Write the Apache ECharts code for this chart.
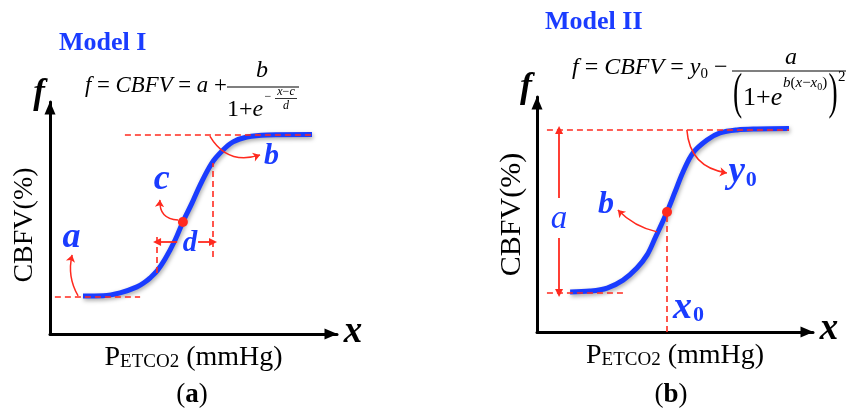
<!DOCTYPE html>
<html>
<head>
<meta charset="utf-8">
<title>CBFV sigmoid models</title>
<script src="https://cdn.jsdelivr.net/npm/echarts@6/dist/echarts.min.js"></script>
<style>
html,body{margin:0;padding:0;background:#ffffff;}
#chart{width:846px;height:409px;}
</style>
</head>
<body>
<div id="chart"></div>
<script>
// ---------------- DATA (normalised axis units 0–100) ----------------
// Panel (a) — Model I
const curveA_x = [11.5, 18.5, 24.4, 30.3, 33.1, 34.8, 37.3, 40.1, 43.6, 46.3, 49.5, 52.3, 56.4, 60.3, 63.8, 68.6, 75.6, 91.3];
const curveA_y = [16.4, 16.5, 17.7, 20.3, 22.4, 24.1, 27.2, 32.3, 40.5, 48.3, 56.5, 64.2, 73.7, 79.3, 82.8, 84.9, 85.8, 86.0];
const inflectionA = [46.3, 48.3];                       // parameter c
const guidesA = [                                        // dashed guides [x1, y1, x2, y2]
  [1.7, 15.9, 31.4, 15.9],
  [26.1, 85.8, 91.3, 85.8],
  [37.3, 26.3, 37.3, 42.7],
  [56.8, 33.2, 56.8, 73.7]
];
const widthArrowsA = [[44.3, 39.7, 37.3, 39.7], [51.6, 39.7, 56.8, 39.7]];   // d
const calloutsA = [[9.8, 16.4, 7.7, 34.1], [44.6, 49.1, 38.3, 57.8], [55.7, 85.3, 73.2, 77.2]];
const calloutBendA = [0.2, 0.5, -0.4];
const paramNamesA = ['a', 'c', 'd', 'b'];
const paramXA = [7.5, 38.9, 48.8, 77.2];
const paramYA = [41.4, 66.6, 38.8, 76.7];

// Panel (b) — Model II
const curveB_x = [12.0, 19.2, 25.4, 31.2, 36.2, 39.9, 42.8, 47.1, 50.0, 52.9, 56.5, 61.6, 66.3, 72.5, 79.7, 91.3];
const curveB_y = [17.0, 17.4, 18.7, 22.1, 27.2, 32.8, 40.0, 51.1, 59.6, 68.1, 76.2, 81.7, 84.7, 86.0, 86.4, 86.6];
const inflectionB = [47.1, 51.1];                       // (x0, f(x0))
const guidesB = [
  [3.6, 86.0, 91.3, 86.0],
  [3.6, 16.6, 32.6, 16.6],
  [47.1, 0, 47.1, 51.1]
];
const spanArrowsB = [[8.0, 57.0, 8.0, 86.0], [8.0, 40.0, 8.0, 16.6]];        // a
const calloutsB = [[54.3, 86.0, 68.8, 67.7], [43.5, 42.6, 29.3, 51.9]];
const calloutBendB = [-0.4, 0.15];
const paramNamesB = ['a', 'b', 'y0', 'x0'];
const paramXB = [8.0, 25.0, 74.5, 54.9];
const paramYB = [48.1, 54.0, 67.7, 10.2];

// ---------------- STYLE ----------------
const BLUE = '#1a3cff';
const RED = '#ff2a1f';
const SERIF = '"Liberation Serif", "Times New Roman", serif';

function pairs(xs, ys) { return xs.map((x, i) => [x, ys[i]]); }
function segs(list, bends) {
  return list.map((s, i) => {
    const item = { coords: [[s[0], s[1]], [s[2], s[3]]] };
    if (bends) item.lineStyle = { curveness: bends[i] };
    return item;
  });
}

const labelStyleA = {
  a: { fontSize: 36, fontWeight: 'bold' },
  c: { fontSize: 36, fontWeight: 'bold' },
  d: { fontSize: 29, fontWeight: 'bold' },
  b: { fontSize: 30, fontWeight: 'bold' }
};
const labelStyleB = {
  a: { fontSize: 33, fontWeight: 'normal' },
  b: { fontSize: 32, fontWeight: 'bold' },
  y0: { fontSize: 37, fontWeight: 'bold' },
  x0: { fontSize: 38, fontWeight: 'bold' }
};
function subRich(size) {
  return {
    v: { fontFamily: SERIF, fontStyle: 'italic', fontWeight: 'bold', fontSize: size, color: BLUE, textBorderWidth: 0 },
    s: { fontFamily: SERIF, fontStyle: 'normal', fontWeight: 'bold', fontSize: 22, color: BLUE, textBorderWidth: 0, padding: [14, 0, 0, 1] }
  };
}
function paramData(names, xs, ys, styles) {
  return names.map((n, i) => {
    const st = styles[n];
    const lab = { fontSize: st.fontSize, fontWeight: st.fontWeight };
    if (n.length === 2) {
      lab.formatter = '{v|' + n[0] + '}{s|' + n[1] + '}';
      lab.rich = subRich(st.fontSize);
    } else {
      lab.formatter = n;
    }
    return { name: n, value: [xs[i], ys[i]], label: lab };
  });
}

function axisLineStyle() {
  return { show: true, onZero: false, symbol: ['none', 'triangle'], symbolSize: [11, 13], symbolOffset: [0, -6],
           lineStyle: { color: '#000', width: 3 } };
}
function xAxisFor(g, gap) {
  return {
    gridIndex: g, type: 'value', min: 0, max: 100,
    axisLine: axisLineStyle(), axisTick: { show: false }, axisLabel: { show: false }, splitLine: { show: false },
    name: '{m|P}{s|ETCO2}{m| (mmHg)}', nameLocation: 'middle', nameGap: gap,
    nameTextStyle: {
      fontFamily: SERIF,
      rich: {
        m: { fontFamily: SERIF, fontSize: 28, color: '#000', verticalAlign: 'bottom', lineHeight: 30 },
        s: { fontFamily: SERIF, fontSize: 19, color: '#000', verticalAlign: 'bottom', lineHeight: 22 }
      }
    }
  };
}
function yAxisFor(g, gap, size, pad) {
  return {
    gridIndex: g, type: 'value', min: 0, max: 100,
    axisLine: axisLineStyle(), axisTick: { show: false }, axisLabel: { show: false }, splitLine: { show: false },
    name: 'CBFV(%)', nameLocation: 'middle', nameRotate: 90, nameGap: gap,
    nameTextStyle: { fontFamily: SERIF, fontSize: size, color: '#000', padding: pad }
  };
}

function panelSeries(idx, cx, cy, point, guides, arrows, callouts, bends, names, px, py, styles) {
  const ax = { xAxisIndex: idx, yAxisIndex: idx };
  return [
    Object.assign({
      type: 'line', data: pairs(cx, cy), smooth: 0.35, showSymbol: false, silent: true, z: 3,
      lineStyle: { color: BLUE, width: 5, shadowColor: 'rgba(0,0,0,0.35)', shadowBlur: 4, shadowOffsetX: 1, shadowOffsetY: 2 }
    }, ax),
    Object.assign({
      type: 'lines', coordinateSystem: 'cartesian2d', data: segs(guides), symbol: 'none', silent: true, z: 4,
      lineStyle: { color: RED, width: 1.6, type: [6, 4], opacity: 1 }
    }, ax),
    Object.assign({
      type: 'lines', coordinateSystem: 'cartesian2d', data: segs(arrows), symbol: ['none', 'triangle'], symbolSize: 8, silent: true, z: 4,
      lineStyle: { color: RED, width: 1.8, opacity: 1 }
    }, ax),
    Object.assign({
      type: 'lines', coordinateSystem: 'cartesian2d', data: segs(callouts, bends), symbol: ['none', 'arrow'], symbolSize: 7, silent: true, z: 4,
      lineStyle: { color: RED, width: 1.5, opacity: 1 }
    }, ax),
    Object.assign({
      type: 'scatter', data: [point], symbolSize: 10, itemStyle: { color: RED, opacity: 1 }, silent: true, z: 5
    }, ax),
    Object.assign({
      type: 'scatter', data: paramData(names, px, py, styles), symbolSize: 1, itemStyle: { color: BLUE, opacity: 0 }, silent: true, z: 6,
      label: { show: true, position: 'inside', color: BLUE, opacity: 1, fontFamily: SERIF, fontStyle: 'italic',
               textBorderWidth: 0, textBorderColor: 'transparent', textShadowBlur: 0 }
    }, ax)
  ];
}

// ---------------- TEXT (titles, axis letters, formulas, captions) ----------------
function txt(text, x, y, style, extra) {
  return Object.assign({
    type: 'text', x: x, y: y, silent: true, z: 10,
    style: Object.assign({ text: text, fill: '#000', fontFamily: SERIF, fontSize: 24, align: 'center', verticalAlign: 'middle' }, style)
  }, extra || {});
}
function bar(x1, x2, y, w) {
  return { type: 'line', silent: true, z: 10, shape: { x1: x1, y1: y, x2: x2, y2: y }, style: { stroke: '#000', lineWidth: w } };
}
function mathRich(size, subSize, subPad) {
  return {
    i: { fontFamily: SERIF, fontStyle: 'italic', fontSize: size, fill: '#000' },
    r: { fontFamily: SERIF, fontStyle: 'normal', fontSize: size, fill: '#000' },
    s: { fontFamily: SERIF, fontStyle: 'normal', fontSize: subSize, fill: '#000', padding: [subPad, 0, 0, 0] }
  };
}

const graphics = [
  // panel titles
  txt('Model I', 59, 43, { fontSize: 26, fontWeight: 'bold', fill: BLUE, align: 'left' }),
  txt('Model II', 545, 22, { fontSize: 26, fontWeight: 'bold', fill: BLUE, align: 'left' }),
  // axis letters
  txt('f', 39, 94, { fontSize: 35, fontWeight: 'bold', fontStyle: 'italic' }),
  txt('x', 353, 332, { fontSize: 37, fontWeight: 'bold', fontStyle: 'italic' }),
  txt('f', 526, 88, { fontSize: 36, fontWeight: 'bold', fontStyle: 'italic' }),
  txt('x', 829, 329, { fontSize: 37, fontWeight: 'bold', fontStyle: 'italic' }),
  // captions
  txt('({b|a})', 192, 395, { fontSize: 27, rich: { b: { fontFamily: SERIF, fontSize: 27, fontWeight: 'bold', fill: '#000' } } }),
  txt('({b|b})', 671, 395, { fontSize: 27, rich: { b: { fontFamily: SERIF, fontSize: 27, fontWeight: 'bold', fill: '#000' } } }),

  // formula (a): f = CBFV = a + b / (1 + e^(-(x-c)/d))
  txt('{i|f}{r| = }{i|CBFV}{r| = }{i|a}{r| +}', 85, 86, { align: 'left', rich: mathRich(24, 15, 12) }, { scaleX: 0.95 }),
  txt('b', 262, 71, { fontStyle: 'italic', fontSize: 24 }),
  bar(227, 299, 87, 1.2),
  txt('{r|1+}{i|e}', 227, 110, { align: 'left', rich: mathRich(24, 15, 12) }),
  txt('\u2212', 268, 97, { fontSize: 12 }),
  txt('{i|x}{r|\u2212}{i|c}', 286, 92, { rich: mathRich(12, 9, 6) }),
  bar(275, 297, 98.5, 0.8),
  txt('d', 286, 106, { fontStyle: 'italic', fontSize: 12 }),

  // formula (b): f = CBFV = y0 - a / (1 + e^(b(x-x0)))^2
  txt('{i|f}{r| = }{i|CBFV}{r| = }{i|y}{s|0}{r| \u2212}', 572, 68, { align: 'left', rich: mathRich(24, 15, 12) }),
  txt('a', 791, 58, { fontStyle: 'italic', fontSize: 24 }),
  bar(732, 846, 71, 1.2),
  txt('(', 737.5, 95, { fontSize: 50 }, { scaleX: 0.55 }),
  txt('{r|1+}{i|e}', 743, 98, { align: 'left', rich: mathRich(26, 15, 12) }),
  txt('{i|b}{r|(}{i|x}{r|\u2212}{i|x}{s|0}{r|)}', 783, 83, { align: 'left', rich: mathRich(15, 10, 8) }),
  txt(')', 833, 95, { fontSize: 50 }, { scaleX: 0.55 }),
  txt('2', 838, 77, { fontSize: 15, align: 'left' })
];

const option = {
  animation: false,
  backgroundColor: '#ffffff',
  textStyle: { fontFamily: SERIF },
  grid: [
    { left: 50, top: 102, width: 287, height: 232, containLabel: false },
    { left: 537, top: 97, width: 276, height: 235, containLabel: false }
  ],
  xAxis: [xAxisFor(0, 8), xAxisFor(1, 8)],
  yAxis: [yAxisFor(0, 11, 28, [0, 14, 0, 0]), yAxisFor(1, 10, 30, [0, 0, 0, 0])],
  series: [].concat(
    panelSeries(0, curveA_x, curveA_y, inflectionA, guidesA, widthArrowsA, calloutsA, calloutBendA, paramNamesA, paramXA, paramYA, labelStyleA),
    panelSeries(1, curveB_x, curveB_y, inflectionB, guidesB, spanArrowsB, calloutsB, calloutBendB, paramNamesB, paramXB, paramYB, labelStyleB)
  ),
  graphic: { elements: graphics }
};

const chart = echarts.init(document.getElementById('chart'), null, { renderer: 'canvas' });
chart.setOption(option);
</script>
</body>
</html>
